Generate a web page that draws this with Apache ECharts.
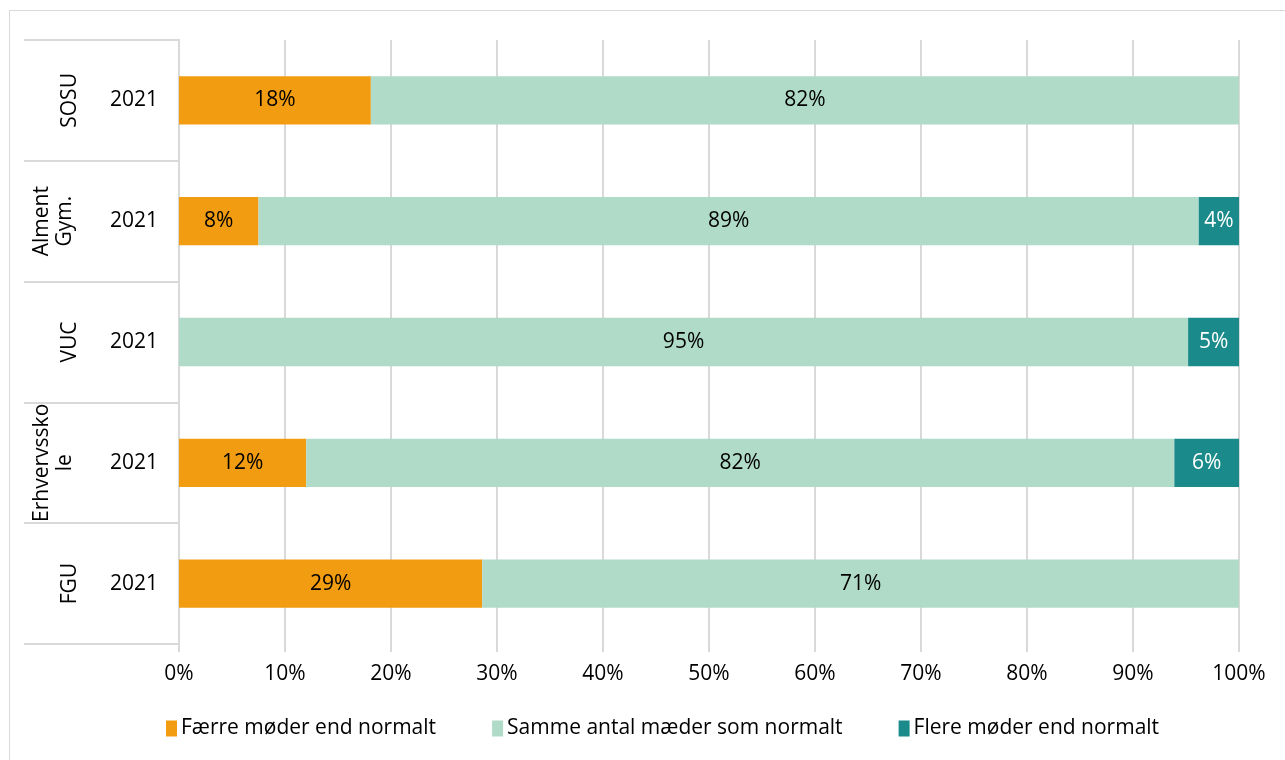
<!DOCTYPE html>
<html>
<head>
<meta charset="utf-8">
<script src="https://cdn.jsdelivr.net/npm/echarts@6/dist/echarts.min.js"></script>
<style>
html,body{margin:0;padding:0;background:#fff;}
#frame{position:absolute;left:9px;top:10px;width:1290px;height:760px;border-left:1px solid #d9d9d9;border-top:1px solid #d9d9d9;}
#chart{position:absolute;left:0;top:0;width:1285px;height:760px;}
</style>
</head>
<body>
<div id="frame"></div>
<div id="chart"></div>
<script>
const groups = ['SOSU', 'Alment\nGym.', 'VUC', 'Erhvervssko\nle', 'FGU'];
const years = ['2021', '2021', '2021', '2021', '2021'];
const seriesNames = ['Færre møder end normalt', 'Samme antal mæder som normalt', 'Flere møder end normalt'];
const faerre = [18.1, 7.5, 0, 12.0, 28.6];
const samme = [81.9, 88.7, 95.2, 81.9, 71.4];
const flere = [0, 3.8, 4.8, 6.1, 0];
const xTicks = [0, 10, 20, 30, 40, 50, 60, 70, 80, 90, 100];

const colors = ['#F29C12', '#B0DBC9', '#1A8A8A'];
const labelColors = ['#000', '#000', '#fff'];
const FONT = 'Open Sans';
const FS = 21;

const chart = echarts.init(document.getElementById('chart'), null, {renderer: 'canvas'});
const mk = (name, data, i) => ({
  name: name,
  type: 'bar',
  stack: 'total',
  yAxisIndex: 0,
  barWidth: '40%',
  data: data,
  itemStyle: {color: colors[i]},
  label: {
    show: true,
    position: 'inside',
    color: labelColors[i],
    fontFamily: FONT,
    fontSize: FS,
    formatter: p => p.value > 0 ? Math.round(p.value) + '%' : ''
  },
  emphasis: {disabled: true}
});

const groupAxisData = groups.map(g => g.indexOf('\n') >= 0
  ? {value: g, textStyle: {lineHeight: 23, padding: [0, 0, 4, 0]}}
  : g);

chart.setOption({
  animation: false,
  textStyle: {fontFamily: FONT},
  grid: {left: 179, right: 46, top: 40, bottom: 116, containLabel: false},
  legend: {
    left: 161, top: 713,
    itemWidth: 11, itemHeight: 16, itemGap: 56,
    icon: 'rect',
    textStyle: {fontFamily: FONT, fontSize: FS, color: '#000', padding: [0, 0, 0, -1]},
    data: seriesNames
  },
  xAxis: {
    type: 'value', min: 0, max: 100, interval: 10,
    axisLine: {show: false},
    axisTick: {show: true, length: 8, lineStyle: {color: '#d9d9d9', width: 2}},
    splitLine: {show: true, lineStyle: {color: '#d9d9d9', width: 2}},
    axisLabel: {
      margin: 20, color: '#000', fontFamily: FONT, fontSize: FS,
      formatter: v => xTicks.indexOf(v) >= 0 ? v + '%' : ''
    }
  },
  yAxis: [
    {
      type: 'category', data: groups, inverse: true, position: 'left',
      axisLine: {show: true, lineStyle: {color: '#d9d9d9', width: 2}},
      axisTick: {show: true, length: 155, lineStyle: {color: '#d9d9d9', width: 2}},
      axisLabel: {interval: 0, margin: 21, color: '#000', fontFamily: FONT, fontSize: FS,
        formatter: (v, i) => years[i]}
    },
    {
      type: 'category', data: groupAxisData, inverse: true, position: 'left', offset: 73,
      axisLine: {show: false}, axisTick: {show: false},
      axisLabel: {interval: 0, hideOverlap: false, margin: 25, rotate: 90, color: '#000',
        fontFamily: FONT, fontSize: FS, lineHeight: 21}
    }
  ],
  series: [mk(seriesNames[0], faerre, 0), mk(seriesNames[1], samme, 1), mk(seriesNames[2], flere, 2)]
});
</script>
</body>
</html>
